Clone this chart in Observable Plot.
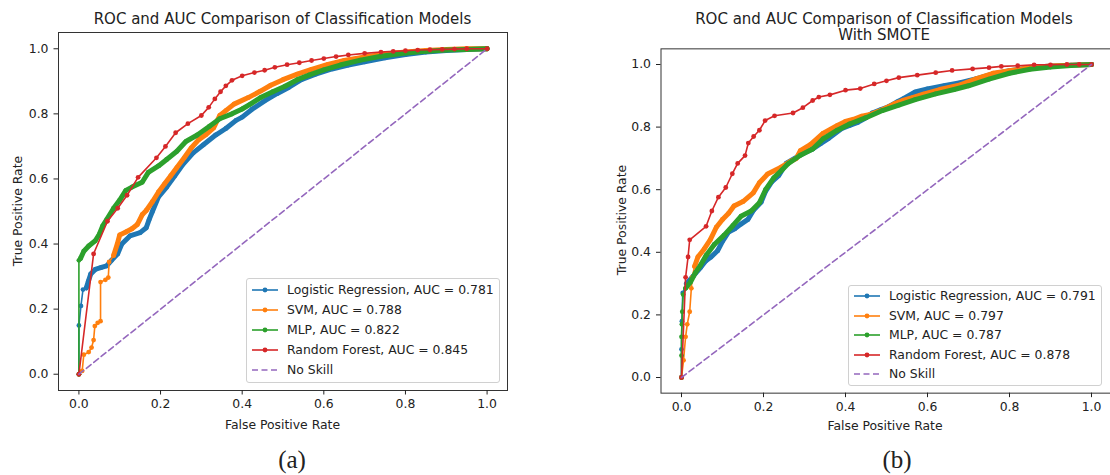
<!DOCTYPE html>
<html><head><meta charset="utf-8">
<script src="https://cdn.jsdelivr.net/npm/d3@7"></script>
<script src="https://cdn.jsdelivr.net/npm/@observablehq/plot@0.6"></script>
<style>
html,body{margin:0;padding:0;background:#fff;overflow:hidden}
#root{position:relative;width:1110px;height:475px;overflow:hidden;font-family:"DejaVu Sans",sans-serif;color:#222}
.abs{position:absolute;white-space:nowrap}
.title{font-size:15px;text-align:center;transform:translateX(-50%);line-height:16.7px}
.xlabel{font-size:12.4px;transform:translate(-50%,-50%)}
.ylabel{font-size:12.4px;transform:translate(-50%,-50%) rotate(-90deg)}
.cap{font-family:"Liberation Serif","Times New Roman",serif;font-size:25px;transform:translate(-50%,-50%)}
.legend{position:absolute;box-sizing:border-box;border:1px solid #d0d0d0;border-radius:3px;background:rgba(255,255,255,0.85);font-size:12.4px}
.legend .item{position:absolute;height:14px;line-height:14px}
.plotbox{position:absolute;top:0}
</style></head><body><div id="root"></div>
<script>
// ---------- data ----------
const models = ["Logistic Regression", "SVM", "MLP", "Random Forest"];
const aucA = [0.781, 0.788, 0.822, 0.845];
const aucB = [0.791, 0.797, 0.787, 0.878];
const axisTicks = [0, 0.2, 0.4, 0.6, 0.8, 1.0];
const noSkill = [[0, 0], [1, 1]];
const titleA = ["ROC and AUC Comparison of Classification Models"];
const titleB = ["ROC and AUC Comparison of Classification Models", "With SMOTE"];
const xLabel = "False Positive Rate";
const yLabel = "True Positive Rate";
const captions = ["(a)", "(b)"];

// (a) without SMOTE: [fpr, tpr]
const lrA = [[0,0],[0,0.15],[0.005,0.21],[0.01,0.26],[0.018,0.265],[0.023,0.285],[0.029,0.308],[0.04,0.322],[0.055,0.328],[0.068,0.333],[0.08,0.35],[0.095,0.37],[0.105,0.40],[0.125,0.425],[0.15,0.435],[0.165,0.45],[0.172,0.475],[0.18,0.50],[0.195,0.545],[0.215,0.575],[0.235,0.61],[0.255,0.645],[0.28,0.68],[0.305,0.705],[0.335,0.735],[0.36,0.755],[0.385,0.78],[0.40,0.79],[0.425,0.815],[0.455,0.84],[0.485,0.862],[0.515,0.882],[0.545,0.905],[0.58,0.922],[0.62,0.938],[0.66,0.95],[0.70,0.96],[0.75,0.972],[0.80,0.982],[0.85,0.99],[0.90,0.995],[0.95,0.998],[1,1]];
const svmA = [[0,0],[0.008,0.01],[0.012,0.06],[0.024,0.068],[0.031,0.082],[0.036,0.105],[0.039,0.148],[0.046,0.158],[0.053,0.163],[0.053,0.283],[0.065,0.29],[0.072,0.297],[0.074,0.345],[0.085,0.365],[0.094,0.40],[0.10,0.428],[0.115,0.437],[0.13,0.447],[0.143,0.46],[0.155,0.49],[0.165,0.503],[0.18,0.53],[0.195,0.56],[0.21,0.585],[0.225,0.61],[0.24,0.635],[0.258,0.665],[0.275,0.695],[0.293,0.72],[0.31,0.735],[0.33,0.757],[0.345,0.795],[0.36,0.81],[0.38,0.83],[0.415,0.85],[0.445,0.87],[0.47,0.888],[0.50,0.905],[0.535,0.922],[0.57,0.937],[0.61,0.952],[0.65,0.964],[0.70,0.975],[0.75,0.984],[0.80,0.99],[0.85,0.995],[0.90,0.998],[0.95,1],[1,1]];
const mlpA = [[0,0],[0,0.35],[0.004,0.356],[0.012,0.378],[0.024,0.394],[0.04,0.41],[0.05,0.43],[0.058,0.455],[0.068,0.475],[0.085,0.51],[0.10,0.535],[0.115,0.565],[0.13,0.575],[0.155,0.59],[0.17,0.62],[0.195,0.64],[0.215,0.66],[0.24,0.685],[0.262,0.715],[0.29,0.735],[0.32,0.762],[0.345,0.785],[0.375,0.80],[0.40,0.815],[0.42,0.83],[0.445,0.85],[0.475,0.868],[0.505,0.885],[0.535,0.905],[0.565,0.92],[0.60,0.935],[0.64,0.95],[0.69,0.965],[0.74,0.977],[0.80,0.987],[0.85,0.992],[0.90,0.996],[0.95,0.998],[1,1]];
const rfA = [[0,0],[0.036,0.37],[0.07,0.47],[0.095,0.51],[0.118,0.55],[0.145,0.605],[0.19,0.665],[0.212,0.70],[0.237,0.742],[0.267,0.77],[0.3,0.795],[0.318,0.82],[0.333,0.846],[0.347,0.868],[0.36,0.886],[0.375,0.903],[0.40,0.917],[0.43,0.927],[0.455,0.934],[0.48,0.943],[0.51,0.951],[0.54,0.957],[0.57,0.964],[0.60,0.97],[0.63,0.976],[0.66,0.981],[0.70,0.986],[0.74,0.99],[0.77,0.992],[0.80,0.994],[0.83,0.996],[0.86,0.997],[0.89,0.998],[0.92,0.999],[0.95,1],[1,1]];

// (b) with SMOTE: [fpr, tpr]
const lrB = [[0,0],[0,0.09],[0.001,0.18],[0.003,0.27],[0.012,0.30],[0.03,0.326],[0.047,0.352],[0.059,0.372],[0.071,0.384],[0.088,0.405],[0.10,0.435],[0.115,0.465],[0.13,0.475],[0.145,0.49],[0.162,0.505],[0.176,0.535],[0.194,0.56],[0.205,0.595],[0.22,0.625],[0.237,0.645],[0.256,0.685],[0.282,0.705],[0.30,0.718],[0.32,0.73],[0.34,0.748],[0.36,0.765],[0.39,0.795],[0.41,0.805],[0.43,0.815],[0.45,0.83],[0.465,0.845],[0.485,0.855],[0.505,0.865],[0.525,0.88],[0.54,0.89],[0.57,0.912],[0.60,0.922],[0.64,0.932],[0.68,0.942],[0.72,0.955],[0.76,0.97],[0.80,0.98],[0.85,0.99],[0.90,0.995],[0.95,0.998],[1,1]];
const svmB = [[0,0],[0.005,0.055],[0.01,0.13],[0.014,0.17],[0.02,0.21],[0.024,0.285],[0.026,0.32],[0.032,0.355],[0.04,0.385],[0.055,0.41],[0.07,0.44],[0.085,0.48],[0.10,0.505],[0.115,0.525],[0.128,0.548],[0.15,0.562],[0.175,0.59],[0.19,0.622],[0.21,0.65],[0.243,0.672],[0.265,0.69],[0.28,0.70],[0.29,0.725],[0.315,0.745],[0.345,0.78],[0.38,0.805],[0.40,0.818],[0.42,0.825],[0.44,0.835],[0.46,0.84],[0.48,0.85],[0.50,0.862],[0.52,0.875],[0.54,0.885],[0.565,0.895],[0.59,0.905],[0.63,0.92],[0.68,0.935],[0.72,0.955],[0.76,0.972],[0.80,0.98],[0.85,0.99],[0.90,0.995],[0.95,0.998],[1,1]];
const mlpB = [[0,0],[0,0.07],[0,0.13],[0.001,0.17],[0.002,0.21],[0.004,0.265],[0.01,0.285],[0.022,0.305],[0.034,0.335],[0.047,0.36],[0.06,0.39],[0.08,0.425],[0.104,0.455],[0.125,0.485],[0.145,0.515],[0.17,0.532],[0.19,0.558],[0.205,0.60],[0.225,0.638],[0.245,0.663],[0.26,0.683],[0.29,0.71],[0.32,0.73],[0.345,0.762],[0.38,0.79],[0.41,0.81],[0.45,0.83],[0.49,0.853],[0.53,0.87],[0.57,0.888],[0.62,0.906],[0.665,0.92],[0.70,0.932],[0.75,0.953],[0.80,0.972],[0.85,0.985],[0.90,0.992],[0.95,0.997],[1,1]];
const rfB = [[0,0],[0.01,0.32],[0.016,0.385],[0.02,0.44],[0.06,0.483],[0.074,0.532],[0.09,0.576],[0.108,0.607],[0.124,0.651],[0.137,0.684],[0.155,0.709],[0.163,0.749],[0.176,0.77],[0.19,0.79],[0.204,0.821],[0.227,0.836],[0.272,0.845],[0.296,0.862],[0.32,0.885],[0.335,0.896],[0.362,0.903],[0.40,0.918],[0.436,0.923],[0.47,0.938],[0.50,0.948],[0.53,0.958],[0.575,0.966],[0.62,0.974],[0.66,0.981],[0.71,0.986],[0.75,0.99],[0.78,0.994],[0.82,0.996],[0.86,0.999],[0.90,0.999],[0.94,1],[0.97,1],[1,1]];

// ---------- style ----------
const palette = ["#1f77b4", "#ff7f0e", "#2ca02c", "#d62728"];
const noSkillColor = "#9467bd";
const root = document.getElementById("root");

function rowsOf(series) {
  return series.flatMap((pts, i) => pts.map(([fpr, tpr]) => ({model: models[i], fpr, tpr})));
}

function panel(series, cfg) {
  const data = rowsOf(series);
  const diag = noSkill.map(([fpr, tpr]) => ({fpr, tpr}));
  const marks = [
    Plot.frame({stroke: "#333", strokeWidth: 1}),
    Plot.axisX({ticks: axisTicks, tickSize: 4.5, tickPadding: 4.5, tickFormat: d3.format(".1f"), label: null}),
    Plot.axisY({ticks: axisTicks, tickSize: 4.5, tickPadding: 5.5, tickFormat: d3.format(".1f"), label: null})
  ];
  models.forEach((m, i) => {
    marks.push(Plot.line(data, {filter: d => d.model === m, x: "fpr", y: "tpr", stroke: palette[i], strokeWidth: 1.6}));
    if (cfg.dense[i] != null) {
      marks.push(Plot.line(data, {filter: d => d.model === m && d.fpr >= cfg.dense[i], x: "fpr", y: "tpr", stroke: palette[i], strokeWidth: 5, strokeLinejoin: "round", strokeLinecap: "round"}));
    }
    marks.push(Plot.dot(data, {filter: d => d.model === m, x: "fpr", y: "tpr", fill: palette[i], r: 2.4}));
  });
  marks.push(Plot.line(diag, {x: "fpr", y: "tpr", stroke: noSkillColor, strokeWidth: 1.6, strokeDasharray: "6,3.5"}));
  const svg = Plot.plot({
    width: cfg.width, height: cfg.height,
    marginLeft: cfg.ml, marginRight: cfg.mr, marginTop: cfg.mt, marginBottom: cfg.mb,
    x: {domain: [-0.05, 1.05]},
    y: {domain: [-0.05, 1.05]},
    style: {fontFamily: "DejaVu Sans, sans-serif", fontSize: "12.4px", color: "#222", background: "transparent", overflow: "visible"},
    marks
  });
  svg.classList.add("plotbox");
  svg.style.left = cfg.left + "px";
  root.appendChild(svg);
}

function text(cls, str, x, y) {
  const d = document.createElement("div");
  d.className = "abs " + cls;
  d.style.left = x + "px"; d.style.top = y + "px";
  d.innerHTML = str;
  root.appendChild(d);
}

function legend(auc, box) {
  const lg = document.createElement("div");
  lg.className = "legend";
  Object.assign(lg.style, {left: box.x + "px", top: box.y + "px", width: box.w + "px", height: box.h + "px"});
  const labels = models.map((m, i) => `${m}, AUC = ${auc[i].toFixed(3)}`).concat(["No Skill"]);
  labels.forEach((lab, k) => {
    const cy = box.first + k * box.step;
    const col = k < 4 ? palette[k] : noSkillColor;
    const h = document.createElementNS("http://www.w3.org/2000/svg", "svg");
    h.setAttribute("width", 27); h.setAttribute("height", 10);
    h.style.position = "absolute"; h.style.left = box.hx + "px"; h.style.top = (cy - 5) + "px";
    h.innerHTML = k < 4
      ? `<line x1="0" x2="26" y1="5" y2="5" stroke="${col}" stroke-width="1.6"/><circle cx="13" cy="5" r="2.4" fill="${col}"/>`
      : `<line x1="0" x2="26" y1="5" y2="5" stroke="${col}" stroke-width="1.6" stroke-dasharray="6,3.5"/>`;
    lg.appendChild(h);
    const t = document.createElement("div");
    t.className = "item";
    t.style.left = box.tx + "px"; t.style.top = (cy - 7) + "px";
    t.textContent = lab;
    lg.appendChild(t);
  });
  root.appendChild(lg);
}

// ---------- panel (a) ----------
panel([lrA, svmA, mlpA, rfA], {left: 0, width: 520, height: 440, ml: 58, mr: 13, mt: 32, mb: 50, dense: [0.012, 0.075, 0.004, null]});
text("title", titleA.join("<br>"), 282.5, 11);
text("xlabel", xLabel, 282.5, 424);
text("ylabel", yLabel, 17, 211);
text("cap", captions[0], 292, 460);
legend(aucA, {x: 246, y: 278, w: 254, h: 105, first: 11.3, step: 20, hx: 4.5, tx: 40});

// ---------- panel (b) ----------
panel([lrB, svmB, mlpB, rfB], {left: 600, width: 512, height: 440, ml: 60.5, mr: 0.5, mt: 48.35, mb: 47.35, dense: [0.01, 0.03, 0.01, null]});
text("title", titleB.join("<br>"), 884, 10.5);
text("xlabel", xLabel, 885, 425);
text("ylabel", yLabel, 620.5, 220);
text("cap", captions[1], 897, 460);
legend(aucB, {x: 848, y: 285, w: 254, h: 101, first: 10, step: 19.6, hx: 4.5, tx: 40});
</script></body></html>
